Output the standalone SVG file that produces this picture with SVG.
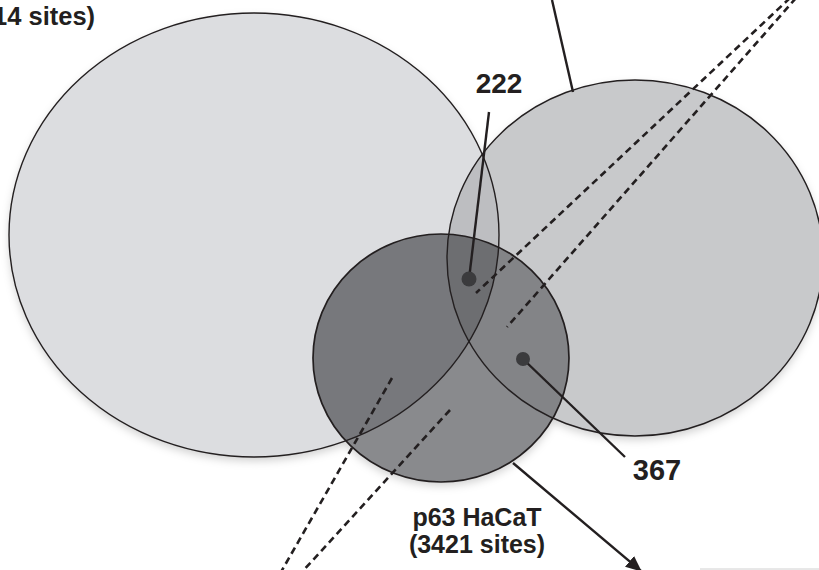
<svg xmlns="http://www.w3.org/2000/svg" width="819" height="570" viewBox="0 0 819 570">
<style>
.lbl{font-family:"Liberation Sans",Arial,sans-serif;font-weight:bold;fill:#231f20}
.edge{fill:none;stroke:#231f20;stroke-width:1.4}
.lead{fill:none;stroke:#231f20;stroke-width:2.4}
.dash{fill:none;stroke:#231f20;stroke-width:2.6;stroke-dasharray:7 4.5}
.dot{fill:#3b3b3d}
</style>
<defs>
<clipPath id="clipL"><ellipse cx="254" cy="235" rx="245" ry="222"/></clipPath>
<clipPath id="clipR"><ellipse cx="635" cy="258" rx="188" ry="178"/></clipPath>
<marker id="arrow" viewBox="0 0 16 14" refX="15" refY="7" markerWidth="16" markerHeight="14" markerUnits="userSpaceOnUse" orient="auto">
<path d="M0,0 L16,7 L0,14 z" fill="#231f20"/>
</marker>
<filter id="shadow" x="-10%" y="-10%" width="120%" height="125%">
<feDropShadow dx="0" dy="4" stdDeviation="4" flood-color="#000" flood-opacity="0.18"/>
</filter>
</defs>
<rect width="819" height="570" fill="#ffffff"/>
<g id="fills" filter="url(#shadow)">
<g id="set-left"><ellipse cx="254" cy="235" rx="245" ry="222" fill="#dcdde0"/></g>
<g id="set-right"><ellipse cx="635" cy="258" rx="188" ry="178" fill="#c8c9cb"/></g>
<g id="overlap-left-right" clip-path="url(#clipL)"><ellipse cx="635" cy="258" rx="188" ry="178" fill="#bdbec1"/></g>
<g id="set-p63">
<ellipse cx="441" cy="358" rx="128" ry="124" fill="#898a8d"/>
<g clip-path="url(#clipL)"><ellipse cx="441" cy="358" rx="128" ry="124" fill="#77787b"/></g>
<g clip-path="url(#clipR)"><ellipse cx="441" cy="358" rx="128" ry="124" fill="#838487"/></g>
<g clip-path="url(#clipL)"><ellipse cx="441" cy="358" rx="128" ry="124" fill="#6d6e71" clip-path="url(#clipR)"/></g>
</g>
</g>
<g id="outlines">
<ellipse class="edge" cx="254" cy="235" rx="245" ry="222"/>
<ellipse class="edge" cx="635" cy="258" rx="188" ry="178"/>
<ellipse class="edge" cx="441" cy="358" rx="128" ry="124" style="stroke-width:1.7"/>
</g>
<g id="connectors">
<line class="lead" x1="552" y1="0" x2="573" y2="92"/>
<line class="dash" x1="790" y1="-2" x2="476" y2="293"/>
<line class="dash" x1="796" y1="-2" x2="507" y2="327"/>
<line class="dash" x1="392" y1="378" x2="281" y2="572"/>
<line class="dash" x1="450" y1="410" x2="302" y2="572"/>
<line class="lead" x1="489" y1="112" x2="469" y2="279"/>
<line class="lead" x1="523" y1="359" x2="625" y2="457"/>
<line class="lead" x1="513" y1="463" x2="641" y2="571" marker-end="url(#arrow)"/>
<line x1="700" y1="569" x2="819" y2="569" stroke="#d0d0d0" stroke-width="1"/>
</g>
<g id="dots">
<circle class="dot" cx="469" cy="279" r="7.5"/>
<circle class="dot" cx="523" cy="359" r="7"/>
</g>
<g id="labels">
<text class="lbl" x="-7" y="25" font-size="25.5">14 sites)</text>
<text class="lbl" x="499" y="93" font-size="28" text-anchor="middle">222</text>
<text class="lbl" x="657" y="480" font-size="29" text-anchor="middle">367</text>
<text class="lbl" x="477" y="526" font-size="25" text-anchor="middle">p63 HaCaT</text>
<text class="lbl" x="477" y="553" font-size="25" text-anchor="middle">(3421 sites)</text>
</g>
</svg>
